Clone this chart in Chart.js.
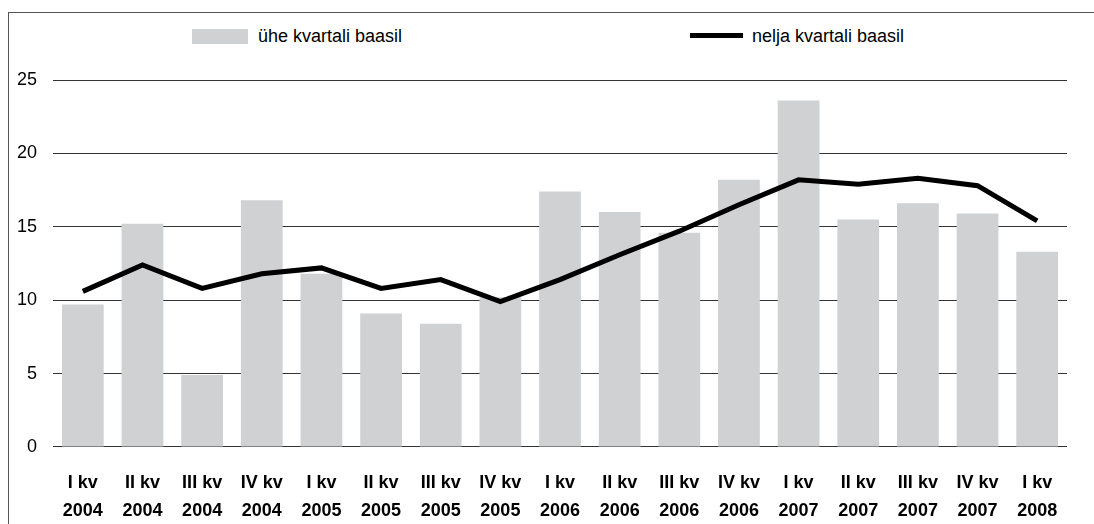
<!DOCTYPE html>
<html>
<head>
<meta charset="utf-8">
<script src="https://cdn.jsdelivr.net/npm/chart.js@4"></script>
<style>
  html, body { margin: 0; padding: 0; background: #fff; }
  #wrap { position: relative; width: 1094px; height: 524px; font-family: "Liberation Sans", Arial, sans-serif; }
  #frame { position: absolute; left: 8px; top: 12px; right: 0; bottom: 0; border-left: 1px solid #555; border-top: 1px solid #555; }
  .leg { position: absolute; font-size: 18px; color: #000; line-height: 20px; }
  #box1 { position: absolute; left: 192px; top: 29px; width: 56px; height: 15px; background: #d0d1d3; }
  #line2 { position: absolute; left: 690px; top: 33px; width: 53px; height: 5px; background: #000; }
  canvas { position: absolute; left: 0; top: 0; }
</style>
</head>
<body>
<div id="wrap">
  <div id="frame"></div>
  <div id="box1"></div>
  <div class="leg" style="left:258px; top:26px;">ühe kvartali baasil</div>
  <div id="line2"></div>
  <div class="leg" style="left:752px; top:26px;">nelja kvartali baasil</div>
  <canvas id="chart" width="1094" height="524"></canvas>
</div>
<script>
// Andmed
const quarters = ['I kv', 'II kv', 'III kv', 'IV kv', 'I kv', 'II kv', 'III kv', 'IV kv', 'I kv', 'II kv', 'III kv', 'IV kv', 'I kv', 'II kv', 'III kv', 'IV kv', 'I kv'];
const years = ['2004', '2004', '2004', '2004', '2005', '2005', '2005', '2005', '2006', '2006', '2006', '2006', '2007', '2007', '2007', '2007', '2008'];
const oneQuarter = [9.7, 15.2, 4.9, 16.8, 11.8, 9.1, 8.4, 10.2, 17.4, 16.0, 14.6, 18.2, 23.6, 15.5, 16.6, 15.9, 13.3];
const fourQuarters = [10.6, 12.4, 10.8, 11.8, 12.2, 10.8, 11.4, 9.9, 11.4, 13.1, 14.7, 16.5, 18.2, 17.9, 18.3, 17.8, 15.4];
const yTicks = [0, 5, 10, 15, 20, 25];

const labels = quarters.map((q, i) => [q, years[i]]);

const chart = new Chart(document.getElementById('chart'), {
    data: {
        labels: labels,
        datasets: [{
                type: 'line',
                label: 'nelja kvartali baasil',
                data: fourQuarters,
                borderColor: '#000',
                borderWidth: 5,
                pointRadius: 0,
                tension: 0,
                order: 0
            }, {
                type: 'bar',
                label: 'ühe kvartali baasil',
                data: oneQuarter,
                backgroundColor: '#d0d1d3',
                barPercentage: 0.7,
                categoryPercentage: 1.0,
                order: 1
            }]
    },
    options: {
        responsive: false,
        animation: false,
        layout: { padding: { top: 80, right: 27, left: 1, bottom: -15 } },
        plugins: {
            legend: { display: false },
            tooltip: { enabled: false }
        },
        scales: {
            x: {
                grid: { display: false },
                border: { display: false },
                ticks: {
                    color: '#000',
                    maxRotation: 0,
                    autoSkip: false,
                    padding: 14,
                    font: { family: 'Liberation Sans', size: 18, weight: 'bold', lineHeight: 1.556 }
                }
            },
            y: {
                min: 0,
                max: 25,
                afterBuildTicks: (axis) => { axis.ticks = yTicks.map(v => ({ value: v })); },
                grid: { color: '#333', lineWidth: 1, drawTicks: false },
                border: { display: false },
                ticks: {
                    color: '#000',
                    padding: 16,
                    font: { family: 'Liberation Sans', size: 18 }
                }
            }
        }
    }
});
</script>
</body>
</html>
